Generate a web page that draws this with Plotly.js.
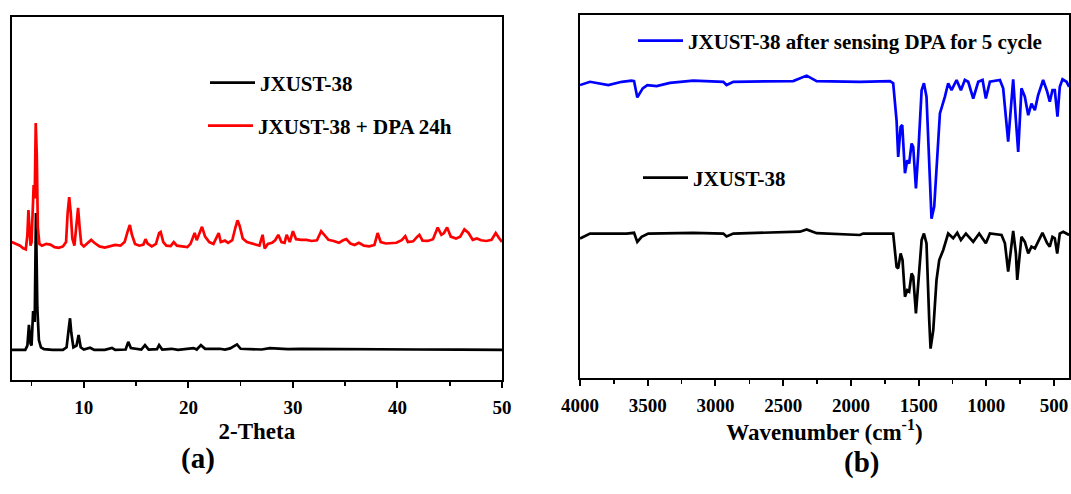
<!DOCTYPE html>
<html>
<head>
<meta charset="utf-8">
<script src="https://cdn.plot.ly/plotly-3.0.1.min.js"></script>
<style>html,body{margin:0;padding:0;background:#fff;}#chart{width:1071px;height:494px;}</style>
</head>
<body>
<div id="chart"></div>
<script>
// ---- (a) PXRD data ----
var xrdAngleA = [3.1,4.4,4.6,4.75,4.9,5.0,5.15,5.3,5.42,5.55,5.7,5.9,6.2,7.0,8.0,8.35,8.55,8.68,8.8,9.0,9.3,9.5,9.7,10.0,10.6,11.0,12.0,12.7,13.0,14.0,14.25,14.5,15.5,15.85,16.2,17.0,17.2,17.5,18.4,19.0,20.5,20.8,21.2,21.6,23.0,23.5,24.0,24.65,25.0,26.0,27.0,27.8,28.5,29.5,30.8,33.0,35.0,38.0,42.0,46.0,50.0];
var xrdJXUST = [8.3,8.3,9.5,15.2,10,9.5,19,16,46,20,11,9,8.5,8.3,8.3,9,14,17,13,9,9.5,12.4,9,8.4,8.9,8.3,8.3,8.8,8.3,8.4,10.5,8.8,8.4,9.6,8.4,8.5,9.6,8.4,8.6,8.3,8.8,8.4,9.6,8.6,8.6,8.4,8.7,9.8,8.6,8.6,8.4,8.8,8.7,8.5,8.6,8.6,8.4,8.4,8.4,8.35,8.3];
var xrdAngleB = [3.1,3.5,3.9,4.2,4.45,4.6,4.7,4.8,4.9,5.0,5.1,5.2,5.3,5.4,5.5,5.6,5.75,6.0,6.4,6.8,7.2,7.6,8.0,8.3,8.45,8.6,8.75,8.9,9.1,9.3,9.45,9.6,9.75,10.0,10.4,10.7,11.0,11.5,12.0,12.5,13.0,13.5,13.9,14.2,14.4,14.6,14.9,15.3,15.7,15.9,16.1,16.5,16.9,17.2,17.35,17.6,17.9,18.3,18.6,18.9,19.4,19.9,20.2,20.6,20.8,21.1,21.3,21.6,22.0,22.4,22.9,23.1,23.5,23.8,24.2,24.5,24.7,24.9,25.2,25.6,26.0,26.5,26.8,27.1,27.3,27.6,28.0,28.3,28.6,28.9,29.2,29.4,29.7,30.0,30.3,30.8,31.3,31.8,32.3,32.7,33.0,33.4,33.9,34.4,34.8,35.1,35.5,35.9,36.3,36.8,37.3,37.8,38.1,38.4,38.9,39.4,39.9,40.4,40.75,41.0,41.5,41.9,42.1,42.4,42.9,43.4,43.85,44.2,44.45,44.75,45.1,45.6,46.0,46.4,46.8,47.2,47.6,48.0,48.5,49.0,49.4,49.7,50.0];
var xrdDPA = [38.0,37.5,37.0,36.3,36.0,40,46.8,42,37.0,38,48,53.7,50,70.8,62,42,37.5,37.0,37.5,37.3,36.6,36.4,36.8,38,46,50.4,46,39,37,42,47.4,42,37.5,36.8,37.8,38.6,37.8,36.8,36.5,36.8,37.2,37.0,38.0,41,42.7,40,37.5,37.0,37.3,38.8,37.6,36.8,37.5,40.5,40.8,38,37.0,36.9,38.0,37.0,36.8,36.6,37.5,40.5,38.5,41,42.2,39.5,38.0,37.5,40.5,38,38.4,37.8,38.5,42,44,42.5,39,38,37.6,37.2,37.0,40,36.2,37.5,37.8,38.5,40.0,38,37.8,40,38,41,38.8,38.6,38.6,38.3,38.5,41,40,38.6,38.3,37.8,38.5,38.8,37.6,37.2,37.8,37.0,36.8,37.2,40.5,38,37.6,37.7,37.8,38.5,39.6,38,38.2,39.5,40,38.4,38.3,38.8,42,40,40.5,42,39.5,39.0,39.5,41.5,40.5,38.6,39,38.5,38.3,38.6,40.5,39.2,38.0];

// ---- (b) FTIR data ----
var irWnCycle = [4000,3926,3791,3692,3619,3601,3577,3557,3537,3503,3434,3336,3164,2942,2918,2868,2426,2327,2253,1934,1712,1688,1663,1651,1633,1621,1601,1584,1570,1552,1540,1520,1503,1478,1461,1442,1417,1405,1385,1363,1343,1306,1282,1257,1220,1188,1159,1134,1097,1060,1028,1004,974,900,876,839,822,802,782,765,741,716,691,667,642,618,581,551,532,512,495,475,458,438,408,389];
var irCycle = [80.7,81.6,80.7,81.6,81.9,81.8,77.3,78.6,79.8,80.7,80.4,81.3,81.9,81.6,80.7,81.6,81.8,83.3,81.8,81.6,81.8,81.2,71.0,60.9,69.2,69.7,56.4,60.0,59.1,64.6,63.7,52.2,61.9,79.3,81.2,77.5,52.7,43.9,47.2,61.9,72.9,77.5,81.2,79.3,82.1,79.3,82.1,81.6,77.0,81.6,82.1,77.0,81.6,82.1,79.8,65.1,72.9,82.3,71.0,62.3,79.8,77.5,72.4,75.6,73.8,77.9,82.1,78.9,76.1,79.3,79.3,72.0,80.2,82.3,81.6,80.2];
var irWnPristine = [4000,3926,3656,3601,3577,3545,3496,3164,2942,2918,2868,2376,2327,2253,1934,1909,1688,1663,1651,1633,1619,1601,1584,1570,1552,1540,1520,1503,1478,1461,1442,1422,1412,1392,1368,1348,1319,1282,1245,1215,1188,1151,1097,1053,1004,974,888,863,839,822,802,782,772,741,716,691,667,642,618,586,551,532,512,495,477,458,433,389];
var irPristine = [38.4,39.8,39.8,40.0,37.5,38.9,39.8,40.0,39.8,39.0,39.8,40.3,40.9,39.9,39.4,39.8,39.8,30.6,30.2,34.3,32.5,22.4,24.2,23.8,28.8,27.9,17.8,25.1,38.0,39.8,37.1,16.0,8.1,13.2,27.0,32.5,35.2,39.8,38.5,40.0,38.0,39.8,37.5,39.8,37.1,39.8,39.4,37.1,29.3,34.3,40.5,34.3,27.0,38.9,37.5,34.3,36.2,35.7,37.5,40.0,37.1,36.2,38.9,38.5,34.3,39.8,40.3,39.4];

var nameA1 = 'JXUST-38';
var nameA2 = 'JXUST-38 + DPA 24h';
var nameB1 = 'JXUST-38 after sensing DPA for 5 cycle';
var nameB2 = 'JXUST-38';

var FONT = 'Liberation Serif, Times New Roman, serif';
var LW = 2.7;

var traces = [
  {x: xrdAngleA, y: xrdJXUST, name: nameA1, type: 'scatter', mode: 'lines',
   line: {color: '#000000', width: LW}, xaxis: 'x', yaxis: 'y', legend: 'legend'},
  {x: xrdAngleB, y: xrdDPA, name: nameA2, type: 'scatter', mode: 'lines',
   line: {color: '#ff0000', width: LW}, xaxis: 'x', yaxis: 'y', legend: 'legend2'},
  {x: irWnCycle, y: irCycle, name: nameB1, type: 'scatter', mode: 'lines',
   line: {color: '#0000ff', width: LW}, xaxis: 'x2', yaxis: 'y2', legend: 'legend3'},
  {x: irWnPristine, y: irPristine, name: nameB2, type: 'scatter', mode: 'lines',
   line: {color: '#000000', width: LW}, xaxis: 'x2', yaxis: 'y2', legend: 'legend4'}
];

var W = 1071, H = 494;
function px(v){ return v / W; }
function py(v){ return 1 - v / H; }

var tickFont = {family: FONT, size: 19, color: '#000', weight: 'bold'};
var titleFont = {family: FONT, size: 23, color: '#000', weight: 'bold'};
var legFont = {family: FONT, size: 21, color: '#000', weight: 'bold'};

function xax(domain, range, dtick, minorDtick, title) {
  return {
    domain: domain, range: range, dtick: dtick, tick0: 0,
    showline: true, mirror: true, linecolor: '#000', linewidth: 2.2,
    ticks: 'outside', ticklen: 6, tickwidth: 2, tickcolor: '#000',
    minor: {ticks: 'outside', dtick: minorDtick, ticklen: 4, tickwidth: 1.6, tickcolor: '#000'},
    showgrid: false, zeroline: false, tickfont: tickFont, ticklabelstandoff: 3,
    title: {text: title, font: titleFont, standoff: 6}, automargin: false
  };
}
function yax(domain, anchor) {
  return {
    domain: domain, range: [0, 100], anchor: anchor,
    showline: true, mirror: true, linecolor: '#000', linewidth: 2.2,
    ticks: '', showticklabels: false, showgrid: false, zeroline: false, automargin: false
  };
}
function leg(x, y) {
  return {x: x, y: y, xanchor: 'left', yanchor: 'middle', bgcolor: 'rgba(0,0,0,0)',
          borderwidth: 0, font: legFont, itemwidth: 45};
}

var layout = {
  width: W, height: H,
  margin: {l: 0, r: 0, t: 0, b: 0},
  paper_bgcolor: '#fff', plot_bgcolor: '#fff',
  showlegend: true,
  xaxis: Object.assign(xax([px(11.7), px(502)], [3.1, 50], 10, 5, '2-Theta'), {anchor: 'y'}),
  yaxis: yax([py(380), py(17)], 'x'),
  xaxis2: Object.assign(xax([px(580), px(1069)], [4000, 390], 500, 250, 'Wavenumber (cm<sup>-1</sup>)'), {anchor: 'y2'}),
  yaxis2: yax([py(378), py(15)], 'x2'),
  legend: leg(px(205), py(83)),
  legend2: leg(px(203), py(126)),
  legend3: leg(px(633), py(41)),
  legend4: leg(px(638), py(178)),
  annotations: [
    {text: '(a)', xref: 'paper', yref: 'paper', x: px(198), y: py(458), showarrow: false,
     xanchor: 'center', yanchor: 'middle', font: {family: FONT, size: 29, color: '#000', weight: 'bold'}},
    {text: '(b)', xref: 'paper', yref: 'paper', x: px(861), y: py(462), showarrow: false,
     xanchor: 'center', yanchor: 'middle', font: {family: FONT, size: 29, color: '#000', weight: 'bold'}}
  ]
};

Plotly.newPlot('chart', traces, layout, {displayModeBar: false, staticPlot: true});
</script>
</body>
</html>
